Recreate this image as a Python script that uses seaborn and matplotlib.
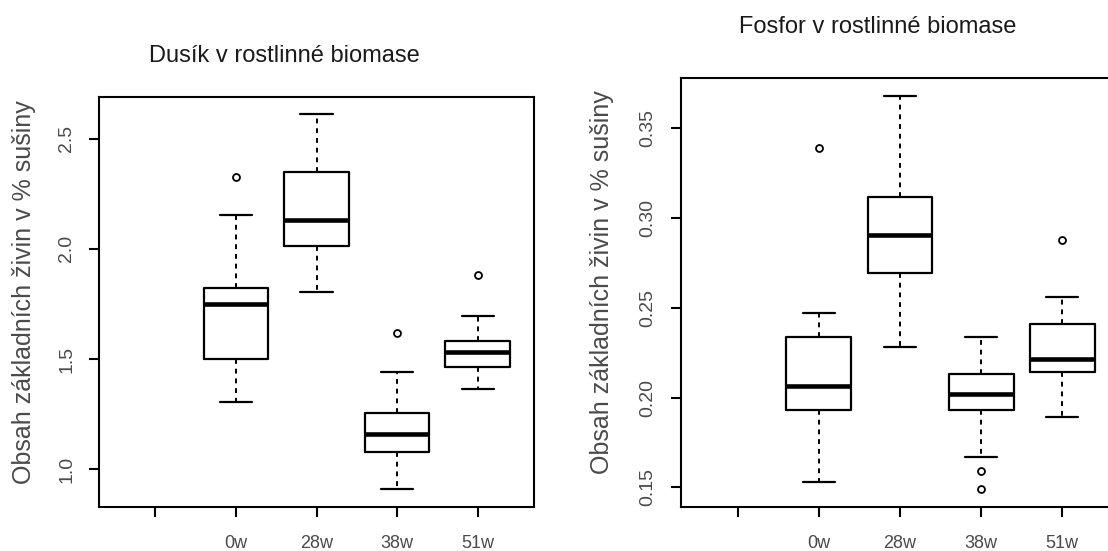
import matplotlib
matplotlib.use("Agg")
import matplotlib.pyplot as plt
import seaborn as sns

# x categories (the first slot is an empty group, as in the original)
categories = ["", "0w", "28w", "38w", "51w"]
weeks = ["0w", "28w", "38w", "51w"]

# nitrogen: five-number summaries
n_low = [1.305, 1.805, 0.91, 1.364]
n_q1 = [1.50, 2.014, 1.077, 1.464]
n_med = [1.75, 2.13, 1.16, 1.53]
n_q3 = [1.823, 2.35, 1.255, 1.58]
n_high = [2.155, 2.614, 1.44, 1.695]
n_out = [[2.327], [], [1.618], [1.882]]
n_ticks = [1.0, 1.5, 2.0, 2.5]

# phosphorus
p_low = [0.1528, 0.2282, 0.1668, 0.189]
p_q1 = [0.193, 0.2696, 0.193, 0.2142]
p_med = [0.2064, 0.2908, 0.202, 0.2215]
p_q3 = [0.2338, 0.3115, 0.2131, 0.2411]
p_high = [0.2472, 0.3679, 0.2338, 0.2561]
p_out = [[0.339], [], [0.159, 0.149], [0.288]]
p_ticks = [0.15, 0.20, 0.25, 0.30, 0.35]

ylabel = "Obsah základních živin v % sušiny"
title_n = "Dusík v rostlinné biomase"
title_p = "Fosfor v rostlinné biomase"

sns.set_theme(style="ticks")
plt.rcParams['font.family'] = ['Liberation Sans', 'DejaVu Sans']
grey = '#4a4a4a'


def draw_panel(ax, low, q1, med, q3, high, out, ylim, ticks, fmt, ypad):
    stats = []
    for i, w in enumerate(weeks):
        stats.append(dict(label=w, whislo=low[i], q1=q1[i], med=med[i],
                          q3=q3[i], whishi=high[i], fliers=out[i]))
    pos = [categories.index(w) for w in weeks]
    ax.bxp(stats, positions=pos, widths=0.8, capwidths=0.4, showfliers=True,
           boxprops=dict(color='black', linewidth=1.6),
           medianprops=dict(color='black', linewidth=3.3),
           whiskerprops=dict(color='black', linewidth=1.4, linestyle=(0, (2.5, 2.5))),
           capprops=dict(color='black', linewidth=1.6),
           flierprops=dict(marker='o', markerfacecolor='none', markeredgecolor='black',
                           markersize=5, markeredgewidth=1.3))
    ax.set_xlim(-0.7, 4.7)
    ax.set_ylim(*ylim)
    ax.set_xticks(range(len(categories)))
    ax.set_xticklabels(categories, color=grey, fontsize=13)
    ax.set_yticks(ticks)
    ax.set_yticklabels([fmt.format(t) for t in ticks], color=grey, fontsize=14,
                       rotation=90, va='center')
    for s in ax.spines.values():
        s.set_visible(True)
        s.set_linewidth(1.5)
        s.set_color('black')
    ax.tick_params(axis='both', length=7, width=1.5, color='black')
    ax.tick_params(axis='x', pad=13)
    ax.tick_params(axis='y', pad=ypad)
    ax.set_xlabel('')
    ax.set_ylabel('')


fig = plt.figure(figsize=(11.08, 5.51), dpi=100)
ax1 = fig.add_axes([99 / 1108, 1 - 507 / 551, 435 / 1108, 410 / 551])
ax2 = fig.add_axes([681 / 1108, 1 - 507 / 551, 438 / 1108, 429 / 551])

draw_panel(ax1, n_low, n_q1, n_med, n_q3, n_high, n_out, (0.828, 2.69), n_ticks, "{:.1f}", 10)
draw_panel(ax2, p_low, p_q1, p_med, p_q3, p_high, p_out, (0.139, 0.378), p_ticks, "{:.2f}", 11)

fig.text(284 / 1108, 1 - 56 / 551, title_n, ha='center', va='center',
         fontsize=17, color='#1a1a1a')
fig.text(878 / 1108, 1 - 27 / 551, title_p, ha='center', va='center',
         fontsize=17, color='#1a1a1a')
fig.text(24 / 1108, 1 - 292 / 551, ylabel, rotation=90, ha='center', va='center',
         fontsize=18, color=grey)
fig.text(602 / 1108, 1 - 282 / 551, ylabel, rotation=90, ha='center', va='center',
         fontsize=18, color=grey)

fig.savefig("out.png", dpi=100)
